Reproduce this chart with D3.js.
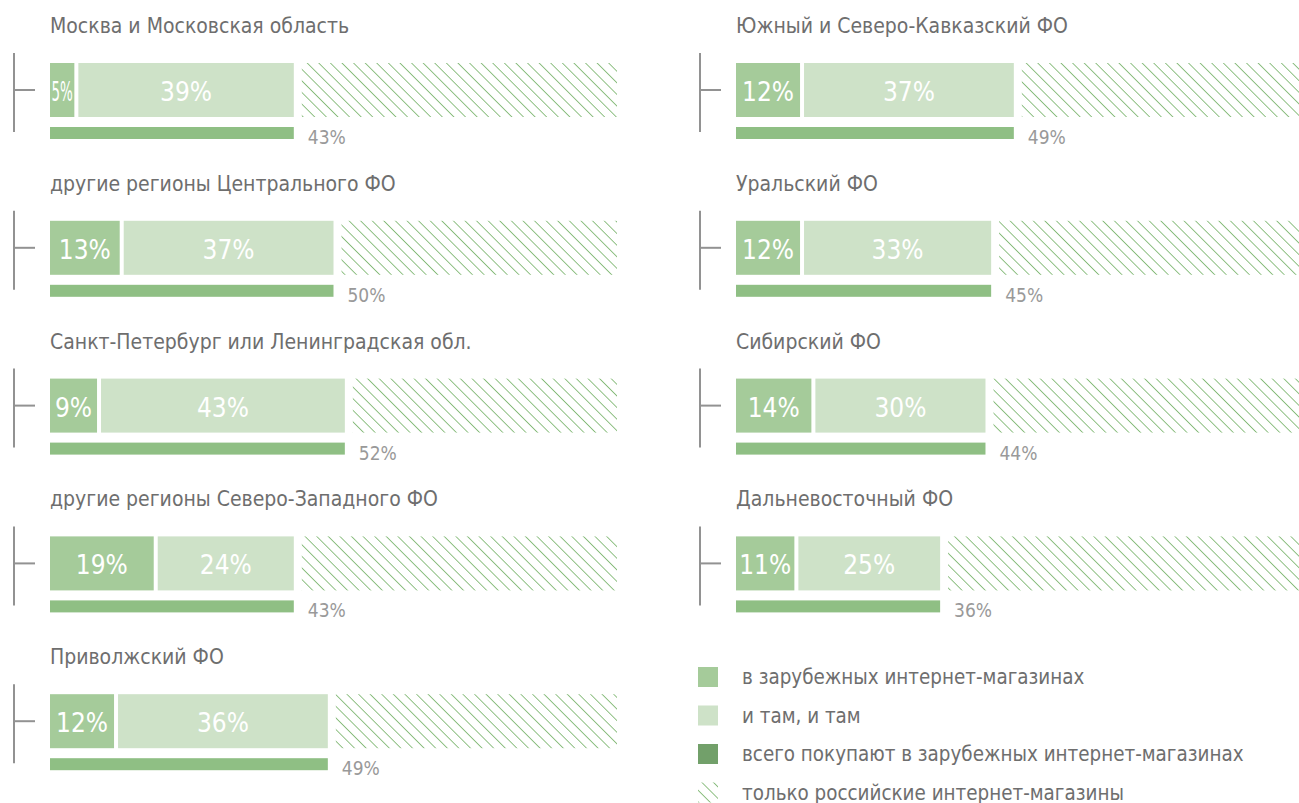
<!DOCTYPE html>
<html><head><meta charset="utf-8">
<script src="https://cdn.jsdelivr.net/npm/d3@7"></script>
<style>
body{margin:0;background:#fff;}
svg{display:block;}
text{font-family:"Liberation Sans Narrow","DejaVu Sans Condensed","Roboto",sans-serif;font-stretch:condensed;}
</style></head>
<body>
<svg id="c" width="1299" height="803"></svg>
<script>
const regions = ["Москва и Московская область","другие регионы Центрального ФО","Санкт-Петербург или Ленинградская обл.","другие регионы Северо-Западного ФО","Приволжский ФО","Южный и Северо-Кавказский ФО","Уральский ФО","Сибирский ФО","Дальневосточный ФО"];
const foreign = [5,13,9,19,12,12,12,14,11];
const both = [39,37,43,24,36,37,33,30,25];
const total = [43,50,52,43,49,49,45,44,36];
const legendLabels = ["в зарубежных интернет-магазинах","и там, и там","всего покупают в зарубежных интернет-магазинах","только российские интернет-магазины"];
const colors = {foreign:"#a5cb9a", both:"#cee2c8", total:"#8fbf84", dark:"#72a06a", hatch:"#84ba78"};

const svg = d3.select("#c");
const defs = svg.append("defs");
const pat = defs.append("pattern").attr("id","hatch").attr("patternUnits","userSpaceOnUse")
  .attr("width",8.2).attr("height",8.2).attr("patternTransform","rotate(-45)");
pat.append("line").attr("x1",0).attr("y1",0).attr("x2",0).attr("y2",8.2)
  .attr("stroke",colors.hatch).attr("stroke-width",1.8);

const cols = [{x0:50, br:14},{x0:736, br:700}];
const rowY = d3.scaleLinear().domain([0,1]).range([63,220.8]);

regions.forEach((name,i)=>{
  const col = i<5?cols[0]:cols[1];
  const row = i<5?i:i-5;
  const x = d3.scaleLinear().domain([0,100]).range([col.x0, col.x0+567]);
  const top = rowY(row);
  const g = svg.append("g");
  g.append("text").attr("x",col.x0).attr("y",top-30).text(name)
    .attr("font-size",21).attr("fill","#6e6e6e");
  // bracket
  g.append("line").attr("x1",col.br).attr("x2",col.br).attr("y1",top-10).attr("y2",top+69)
    .attr("stroke","#929292").attr("stroke-width",2);
  g.append("line").attr("x1",col.br).attr("x2",col.br+21).attr("y1",top+27).attr("y2",top+27)
    .attr("stroke","#929292").attr("stroke-width",2);
  const h=54;
  g.append("rect").attr("x",x(0)).attr("y",top).attr("width",x(foreign[i])-x(0)-4).attr("height",h).attr("fill",colors.foreign);
  g.append("rect").attr("x",x(foreign[i])).attr("y",top).attr("width",x(total[i])-x(foreign[i])).attr("height",h).attr("fill",colors.both);
  g.append("rect").attr("x",x(total[i])+8).attr("y",top).attr("width",x(100)-x(total[i])-8).attr("height",h).attr("fill","url(#hatch)");
  const lab1 = g.append("text").attr("x",(x(0)+x(foreign[i])-4)/2).attr("y",top+38)
    .attr("text-anchor","middle").attr("font-size",26).attr("fill","#fff").text(foreign[i]+"%");
  const w1 = x(foreign[i])-x(0)-4;
  const tw = lab1.node().getComputedTextLength();
  if (tw>w1-2) lab1.attr("textLength",w1-3).attr("lengthAdjust","spacingAndGlyphs");
  g.append("text").attr("x",(x(foreign[i])+x(total[i]))/2).attr("y",top+38)
    .attr("text-anchor","middle").attr("font-size",26).attr("fill","#fff").text(both[i]+"%");
  g.append("rect").attr("x",x(0)).attr("y",top+64).attr("width",x(total[i])-x(0)).attr("height",12).attr("fill",colors.total);
  g.append("text").attr("x",x(total[i])+14).attr("y",top+81).attr("font-size",19).attr("fill","#999").text(total[i]+"%");
});

// legend
const ly = d3.scaleLinear().domain([0,1]).range([677,715.5]);
const lfill=[colors.foreign,colors.both,colors.dark,"url(#hatch)"];
legendLabels.forEach((t,i)=>{
  const cy = ly(i);
  svg.append("rect").attr("x",698).attr("y",cy-10).attr("width",20).attr("height",20).attr("fill",lfill[i]);
  svg.append("text").attr("x",742).attr("y",cy+7).attr("font-size",20.4).attr("fill","#6e6e6e").text(t);
});
</script>
</body></html>
